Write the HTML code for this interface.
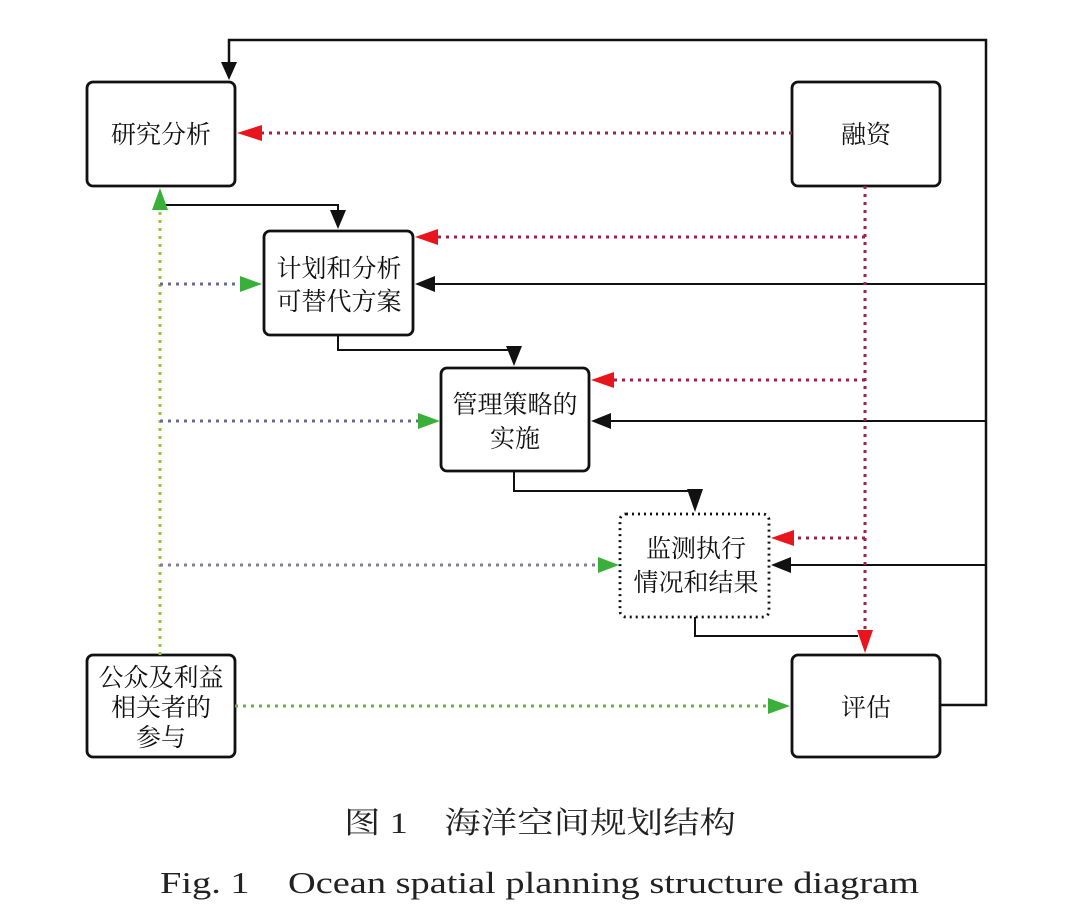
<!DOCTYPE html>
<html><head><meta charset="utf-8"><style>
html,body{margin:0;padding:0;background:#fff;width:1080px;height:922px;overflow:hidden}
svg{display:block}
.cn{font-family:"Liberation Serif","Noto Serif CJK SC","Noto Sans CJK SC",serif;font-size:25px;fill:#111}
</style></head><body>
<svg width="1080" height="922" viewBox="0 0 1080 922" xmlns="http://www.w3.org/2000/svg">
<g fill="none" stroke="#111" stroke-width="2.8">
<rect x="87" y="82" width="148" height="104" rx="6"/>
<rect x="792" y="82" width="148" height="104" rx="6"/>
<rect x="264" y="231" width="149" height="104" rx="6"/>
<rect x="441" y="368" width="148" height="103" rx="6"/>
<rect x="620" y="514" width="149" height="103" rx="6" stroke-dasharray="2,4"/>
<rect x="87" y="655" width="148" height="102" rx="6"/>
<rect x="792" y="655" width="148" height="102" rx="6"/>
</g>
<g fill="none" stroke="#111" stroke-width="2">
<polyline points="940,705 986,705 986,40 229,40 229,72" stroke-width="2.5"/>
<line x1="986" y1="284" x2="425" y2="284"/>
<line x1="986" y1="421" x2="601" y2="421"/>
<line x1="986" y1="565" x2="781" y2="565"/>
<polyline points="160,205 338,205 338,221"/>
<polyline points="338,335 338,350 514,350 514,358"/>
<polyline points="514,471 514,491 695,491 695,504"/>
<polyline points="695,617 695,636 858,636"/>
</g>
<g fill="#111">
<path d="M221,62 L237,62 L229,80 Z"/>
<path d="M330,210 L346,210 L338,229 Z"/>
<path d="M506,346 L522,346 L514,366 Z"/>
<path d="M687,489 L703,489 L695,512 Z"/>
<path d="M415,284 L435,276 L435,292 Z"/>
<path d="M591,421 L611,413 L611,429 Z"/>
<path d="M771,565 L791,557 L791,573 Z"/>
</g>
<g fill="none" stroke="#a0204a" stroke-width="3" stroke-dasharray="3,5">
<line x1="792" y1="133" x2="262" y2="133"/>
<line x1="865" y1="186" x2="865" y2="632"/>
<line x1="865" y1="237" x2="438" y2="237"/>
<line x1="865" y1="380" x2="614" y2="380"/>
<line x1="865" y1="538" x2="794" y2="538"/>
</g>
<g fill="#e8161c">
<path d="M237,133 L262,125 L262,141 Z"/>
<path d="M415,237 L438,229 L438,245 Z"/>
<path d="M591,380 L614,372 L614,388 Z"/>
<path d="M771,538 L794,530 L794,546 Z"/>
<path d="M857,630 L873,630 L865,653 Z"/>
</g>
<g fill="none" stroke-width="3" stroke-dasharray="3,5">
<line x1="160" y1="655" x2="160" y2="210" stroke="#9ac43a"/>
<line x1="160" y1="284" x2="240" y2="284" stroke="#6a6a9a"/>
<line x1="160" y1="421" x2="418" y2="421" stroke="#6a6a9a"/>
<line x1="160" y1="565" x2="598" y2="565" stroke="#8a7a9a"/>
<line x1="235" y1="706" x2="768" y2="706" stroke="#6ab040"/>
</g>
<g fill="#3ab03a">
<path d="M160,188 L152,210 L168,210 Z"/>
<path d="M262,284 L240,276 L240,292 Z"/>
<path d="M440,421 L418,413 L418,429 Z"/>
<path d="M619,565 L598,557 L598,573 Z"/>
<path d="M790,706 L768,698 L768,714 Z"/>
</g>
<g class="cn" text-anchor="middle">
<text x="161" y="143">研究分析</text>
<text x="866" y="143">融资</text>
<text x="339" y="277">计划和分析</text>
<text x="339" y="310">可替代方案</text>
<text x="515" y="413">管理策略的</text>
<text x="515" y="447">实施</text>
<text x="696" y="557">监测执行</text>
<text x="696" y="591">情况和结果</text>
<text x="161" y="686">公众及利益</text>
<text x="161" y="716">相关者的</text>
<text x="161" y="746">参与</text>
<text x="866" y="716">评估</text>
</g>
<text x="344" y="833" font-family="Liberation Serif,'Noto Serif CJK SC',serif" font-size="30" fill="#222" textLength="392" lengthAdjust="spacingAndGlyphs">图 1　海洋空间规划结构</text>
<text x="160" y="893" font-family="Liberation Serif,serif" font-size="31" fill="#222" textLength="759" lengthAdjust="spacingAndGlyphs">Fig. 1　Ocean spatial planning structure diagram</text>
</svg>
</body></html>
